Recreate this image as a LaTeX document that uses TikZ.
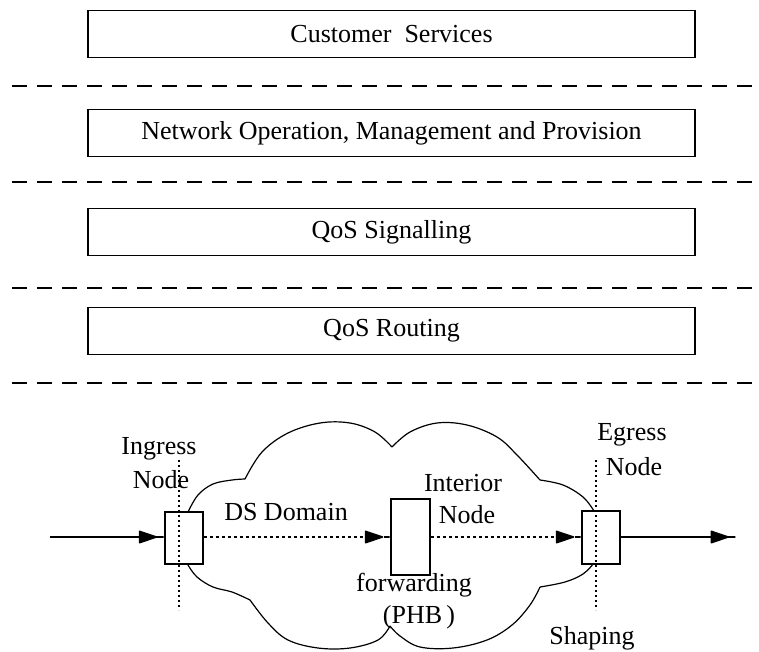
\documentclass[tikz,border=0pt]{standalone}
\usepackage{fontspec}
\setmainfont{Liberation Serif}
\usetikzlibrary{arrows.meta}
\begin{document}
\begin{tikzpicture}[x=1pt,y=-1pt,
  layerbox/.style={draw,line width=1.5pt,minimum width=607pt,minimum height=47pt,inner sep=0pt,font=\fontsize{26}{28}\selectfont},
  sepline/.style={line width=1.5pt,dash pattern=on 15pt off 10pt},
  lbl/.style={inner sep=0pt,font=\fontsize{26}{28}\selectfont},
  nodebox/.style={draw,fill=white,line width=1.5pt,inner sep=0pt},
  cloudline/.style={line width=1.2pt},
  flow/.style={line width=1.5pt,-{Triangle[length=20pt,width=13pt,round]Rectangle[length=7pt,width=1.5pt]}},
  dflow/.style={flow,dash pattern=on 3pt off 3pt},
  vdot/.style={line width=1.3pt,dash pattern=on 2pt off 3pt}]
\useasboundingbox (0,0) rectangle (759,651);
% layers
\node[layerbox] (cs) at (391.5,34) {Customer\ \ Services};
\node[layerbox] (nomp) at (391.5,133) {Network Operation, Management and Provision};
\node[layerbox] (sig) at (391.5,232) {QoS Signalling};
\node[layerbox] (rout) at (391.5,331) {QoS Routing};
\coordinate (d1l) at (12,86);  \coordinate (d1r) at (755,86);
\coordinate (d2l) at (12,182); \coordinate (d2r) at (755,182);
\coordinate (d3l) at (12,288); \coordinate (d3r) at (755,288);
\coordinate (d4l) at (12,383); \coordinate (d4r) at (755,383);
\draw[sepline] (d1l) -- (d1r);
\draw[sepline] (d2l) -- (d2r);
\draw[sepline] (d3l) -- (d3r);
\draw[sepline] (d4l) -- (d4r);
% cloud
\draw[cloudline] plot[smooth,tension=0.6] coordinates {(188,512)(198,495)(213,484)(232,480)(245,479)};
\draw[cloudline] plot[smooth,tension=0.6] coordinates {(245,479)(262,452)(288,433)(320,423)(350,423)(375,432)(392,447)};
\draw[cloudline] plot[smooth,tension=0.6] coordinates {(392,447)(410,432)(437,423)(467,425)(497,437)(517,455)(540,480)};
\draw[cloudline] plot[smooth,tension=0.6] coordinates {(540,480)(563,485)(583,497)(594,511)};
\draw[cloudline] plot[smooth,tension=0.6] coordinates {(594,563)(583,574)(565,582)(540,587)};
\draw[cloudline] plot[smooth,tension=0.6] coordinates {(540,587)(530,605)(512,625)(487,640)(453,648)(420,647)(400,636)(390,626)};
\draw[cloudline] plot[smooth,tension=0.6] coordinates {(390,626)(378,640)(350,648)(318,648)(288,640)(268,623)(250,600)};
\draw[cloudline] plot[smooth,tension=0.6] coordinates {(250,600)(232,592)(213,587)(197,577)(188,565)};
% nodes
\node[nodebox,minimum width=38pt,minimum height=52pt] (ing) at (184,538) {};
\node[nodebox,minimum width=39pt,minimum height=76pt] (int) at (410.5,537) {};
\node[nodebox,minimum width=38pt,minimum height=53pt] (egr) at (601,537.5) {};
% vertical dotted lines
\coordinate (iv1) at (179,460); \coordinate (iv2) at (179,610);
\coordinate (ev1) at (596,460); \coordinate (ev2) at (596,610);
\draw[vdot] (iv1) -- (iv2);
\draw[vdot] (ev1) -- (ev2);
% flows
\coordinate (src) at (50,537);
\coordinate (dst) at (736,537);
\draw[flow] (src) -- (ing.west |- src);
\draw[dflow] (ing.east |- src) -- (int.west |- src);
\draw[dflow] (int.east |- src) -- (egr.west |- src);
\draw[flow] (egr.east |- src) -- (dst);
% labels
\node[lbl] (l1) at (159,449) {Ingress};
\node[lbl] (l2) at (161,480) {Node};
\node[lbl] (l3) at (286,512) {DS Domain};
\node[lbl] (l4) at (463,483) {Interior};
\node[lbl] (l5) at (467,515) {Node};
\node[lbl] (l6) at (414,585) {forwarding};
\node[lbl] (l7) at (419,617) {(PHB\,)};
\node[lbl] (l8) at (632,435) {Egress};
\node[lbl] (l9) at (634,467) {Node};
\node[lbl] (l10) at (592,638) {Shaping};
\end{tikzpicture}
\end{document}
